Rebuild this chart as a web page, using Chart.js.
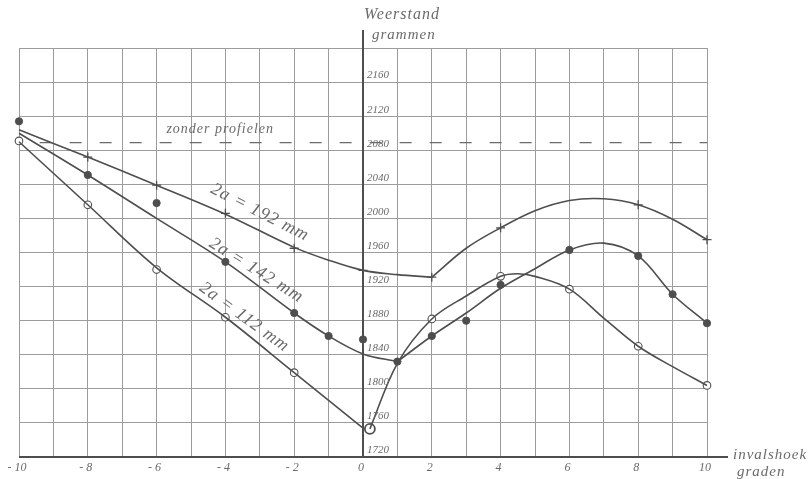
<!DOCTYPE html>
<html>
<head>
<meta charset="utf-8">
<script src="https://cdn.jsdelivr.net/npm/chart.js@4/dist/chart.umd.min.js"></script>
<style>
  html, body { margin: 0; padding: 0; background: #ffffff; }
  canvas { display: block; }
</style>
</head>
<body>
<canvas id="chart" width="808" height="479"></canvas>
<script>
// Tick labels
const xTickValues = [-10, -8, -6, -4, -2, 0, 2, 4, 6, 8, 10];
const xTickLabels = ['- 10', '- 8', '- 6', '- 4', '- 2', '0', '2', '4', '6', '8', '10'];
const yTickValues = [1720, 1760, 1800, 1840, 1880, 1920, 1960, 2000, 2040, 2080, 2120, 2160];

// Measured points (invalshoek in graden, weerstand in grammen)
const hoek192 = [-8, -6, -4, -2, 0, 2, 4, 8, 10];
const weerstand192 = [2072, 2039, 2006, 1965, 1939, 1931, 1989, 2016, 1975];

const hoek142 = [-10, -8, -6, -4, -2, -1, 0, 1, 2, 3, 4, 6, 8, 9, 10];
const weerstand142 = [2114, 2051, 2018, 1949, 1889, 1862, 1858, 1832, 1862, 1880, 1922, 1963, 1956, 1911, 1877];

const hoek112 = [-10, -8, -6, -4, -2, 0.2, 2, 4, 6, 8, 10];
const weerstand112 = [2091, 2016, 1940, 1884, 1819, 1753, 1882, 1932, 1917, 1850, 1804];

// Faired curves through the measurements (each split at its kink)
const kromme192LinksX = [-10, -8, -6, -4, -2, -1, 0, 1, 2];
const kromme192LinksY = [2104, 2072, 2039, 2005, 1966, 1951, 1939, 1934, 1931];
const kromme192RechtsX = [2, 3, 4, 5, 6, 7, 8, 9, 10];
const kromme192RechtsY = [1931, 1965, 1989, 2009, 2021, 2023, 2016, 1999, 1975];

const kromme142LinksX = [-10, -8, -6, -4, -2, -1, 0, 1];
const kromme142LinksY = [2100, 2051, 2000, 1949, 1889, 1862, 1841, 1832];
const kromme142RechtsX = [1, 2, 3, 4, 5, 6, 7, 8, 9, 10];
const kromme142RechtsY = [1832, 1862, 1889, 1918, 1941, 1963, 1971, 1956, 1911, 1877];

const kromme112LinksX = [-10, -8, -6, -4, -2, 0];
const kromme112LinksY = [2090, 2016, 1942, 1884, 1819, 1754];
const kromme112RechtsX = [0.2, 1, 2, 3, 4, 4.5, 5, 6, 7, 8, 9, 10];
const kromme112RechtsY = [1753, 1830, 1882, 1909, 1932, 1935, 1932, 1917, 1883, 1850, 1826, 1804];

// Reference level without profiles
const zonderProfielenX = [-9.4, 10];
const zonderProfielenY = [2089, 2089];

const ink = '#4e4e4e';
const gridInk = '#9c9c9c';
const textInk = '#6a6a6a';
const serif = '"Liberation Serif", "DejaVu Serif", serif';

function pairs(xs, ys) { return xs.map((x, i) => ({ x: x, y: ys[i] })); }

function curve(xs, ys) {
  return {
    data: pairs(xs, ys), showLine: true, pointRadius: 0, borderColor: ink,
    borderWidth: 1.6, tension: 0.35, clip: false
  };
}

const textPlugin = {
  id: 'paperText',
  beforeDatasetsDraw(chart) {
    const { ctx, scales: { x, y } } = chart;
    const x0 = x.getPixelForValue(0);
    const yBottom = y.getPixelForValue(1720);
    ctx.save();
    ctx.strokeStyle = ink;
    ctx.lineWidth = 2;
    ctx.beginPath();
    ctx.moveTo(x0, 30);
    ctx.lineTo(x0, yBottom);
    ctx.moveTo(x.getPixelForValue(-10), yBottom);
    ctx.lineTo(x.getPixelForValue(10) + 21, yBottom);
    ctx.stroke();
    ctx.restore();
  },
  afterDraw(chart) {
    const { ctx, scales: { x, y } } = chart;
    const x0 = x.getPixelForValue(0);
    ctx.save();
    ctx.fillStyle = textInk;

    // y tick labels beside the vertical axis
    ctx.font = 'italic 11px ' + serif;
    ctx.textAlign = 'left';
    ctx.textBaseline = 'bottom';
    yTickValues.forEach(v => ctx.fillText(String(v), x0 + 4, y.getPixelForValue(v) - 1));

    // x tick labels
    ctx.textAlign = 'center';
    ctx.textBaseline = 'middle';
    ctx.font = 'italic 12px ' + serif;
    xTickValues.forEach((v, i) => ctx.fillText(xTickLabels[i], x.getPixelForValue(v) - 2, 468));

    // axis titles
    ctx.textAlign = 'left';
    ctx.letterSpacing = '1px';
    ctx.font = 'italic 16px ' + serif;
    ctx.fillText('Weerstand', x0 + 1, 15);
    ctx.font = 'italic 15px ' + serif;
    ctx.fillText('grammen', x0 + 9, 35);
    ctx.fillText('invalshoek', 733, 455);
    ctx.fillText('graden', 737, 472);

    ctx.font = 'italic 14px ' + serif;
    ctx.textAlign = 'center';
    ctx.fillText('zonder profielen', x.getPixelForValue(-4.15), y.getPixelForValue(2104));

    // curve labels, written along the lines
    const labels = [
      { text: '2a = 192 mm', at: [-3.0, 2007], angle: 27 },
      { text: '2a = 142 mm', at: [-3.1, 1939], angle: 32 },
      { text: '2a = 112 mm', at: [-3.45, 1884], angle: 36 }
    ];
    ctx.font = 'italic 18px ' + serif;
    ctx.letterSpacing = '1px';
    labels.forEach(l => {
      ctx.save();
      ctx.translate(x.getPixelForValue(l.at[0]), y.getPixelForValue(l.at[1]));
      ctx.rotate(l.angle * Math.PI / 180);
      ctx.fillText(l.text, 0, 0);
      ctx.restore();
    });
    ctx.restore();
  }
};

new Chart(document.getElementById('chart'), {
  type: 'scatter',
  data: {
    datasets: [
      curve(kromme192LinksX, kromme192LinksY),
      curve(kromme192RechtsX, kromme192RechtsY),
      curve(kromme142LinksX, kromme142LinksY),
      curve(kromme142RechtsX, kromme142RechtsY),
      curve(kromme112LinksX, kromme112LinksY),
      curve(kromme112RechtsX, kromme112RechtsY),
      {
        data: pairs(zonderProfielenX, zonderProfielenY), showLine: true, pointRadius: 0,
        borderColor: '#6a6a6a', borderWidth: 1.1, borderDash: [12, 18], clip: false
      },
      {
        data: pairs(hoek192, weerstand192), showLine: false, pointStyle: 'cross',
        pointRadius: 4.5, borderColor: ink, borderWidth: 1.3, clip: false
      },
      {
        data: pairs(hoek142, weerstand142), showLine: false, pointStyle: 'circle',
        pointRadius: 3.6, backgroundColor: ink, borderColor: ink, borderWidth: 1, clip: false
      },
      {
        data: pairs(hoek112, weerstand112), showLine: false, pointStyle: 'circle',
        pointRadius: c => (c.raw && c.raw.x > 0 && c.raw.x < 1) ? 5 : 3.8,
        backgroundColor: '#ffffff', borderColor: ink,
        borderWidth: c => (c.raw && c.raw.x > 0 && c.raw.x < 1) ? 1.8 : 1.1, clip: false
      }
    ]
  },
  options: {
    responsive: false,
    animation: false,
    layout: { padding: { left: 19, right: 101, top: 48, bottom: 22 } },
    plugins: { legend: { display: false }, tooltip: { enabled: false } },
    scales: {
      x: {
        type: 'linear', min: -10, max: 10,
        ticks: { display: false, stepSize: 1 },
        grid: { color: gridInk, lineWidth: 1, drawTicks: false },
        border: { display: false }
      },
      y: {
        type: 'linear', min: 1720, max: 2200,
        ticks: { display: false, stepSize: 40 },
        grid: { color: gridInk, lineWidth: 1, drawTicks: false },
        border: { display: false }
      }
    }
  },
  plugins: [textPlugin]
});
</script>
</body>
</html>
